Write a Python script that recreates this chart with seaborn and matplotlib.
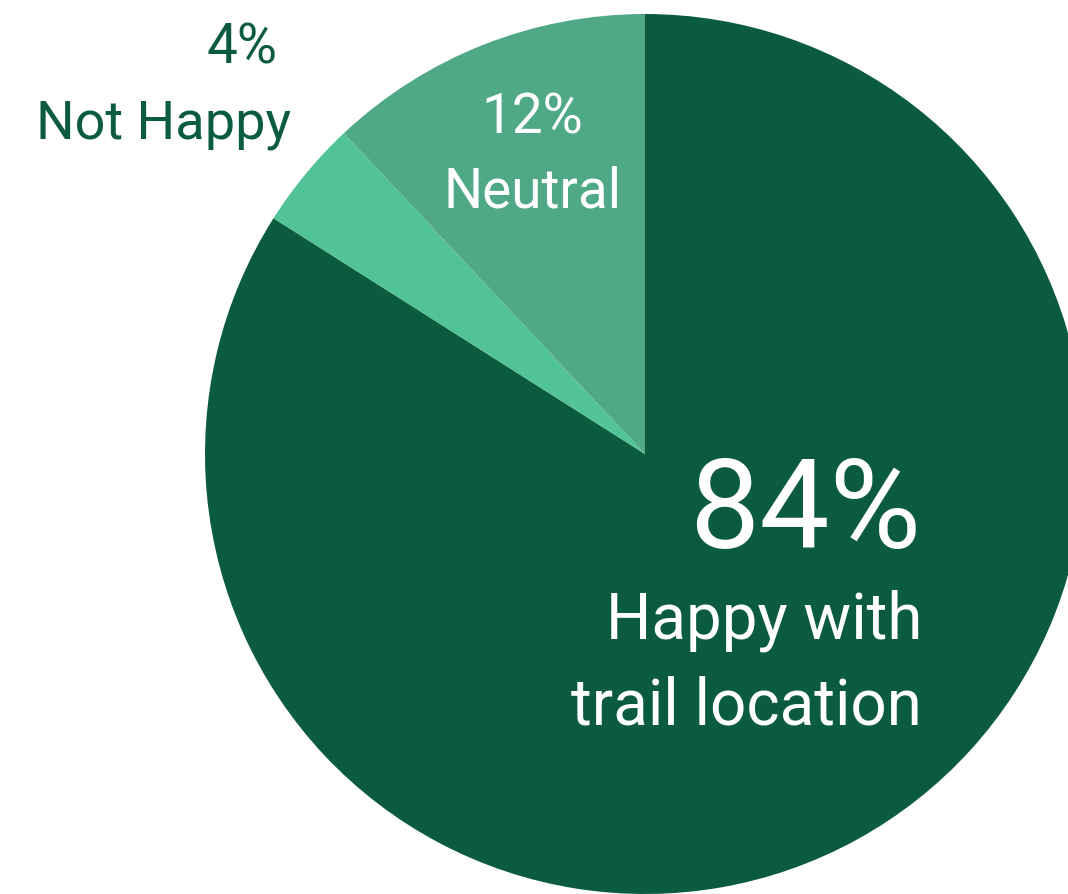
import matplotlib
matplotlib.use("Agg")
import matplotlib.pyplot as plt
import seaborn as sns

# data
labels = ["Happy with\ntrail location", "Not Happy", "Neutral"]
values = [84, 4, 12]
colors = ["#0b5c3f", "#52c297", "#4fa886"]

sns.set_theme(style="white")
plt.rcParams["font.family"] = ["Roboto", "DejaVu Sans"]

W, H = 1068, 895
fig = plt.figure(figsize=(W / 100, H / 100), dpi=100)
ax = fig.add_axes([0, 0, 1, 1])

ax.pie(values, colors=colors, startangle=90, counterclock=False,
       radius=440, center=(645, H - 455),
       wedgeprops=dict(linewidth=0))
ax.set_xlim(0, W)
ax.set_ylim(0, H)
ax.set_aspect("equal")
ax.axis("off")

dark = colors[0]

# Happy with trail location
ax.text(921, H - 548, f"{values[0]}%", color="white", fontsize=90,
        ha="right", va="baseline")
line1, line2 = labels[0].split("\n")
ax.text(922, H - 639, line1, color="white", fontsize=45.8, ha="right", va="baseline")
ax.text(922, H - 725, line2, color="white", fontsize=45.8, ha="right", va="baseline")

# Neutral
ax.text(532, H - 133, f"{values[2]}%", color="white", fontsize=39.5,
        ha="center", va="baseline")
ax.text(532, H - 207, labels[2], color="white", fontsize=39.5,
        ha="center", va="baseline")

# Not Happy
ax.text(242, H - 63, f"{values[1]}%", color=dark, fontsize=39.5,
        ha="center", va="baseline")
ax.text(164, H - 138, labels[1], color=dark, fontsize=39,
        ha="center", va="baseline")

fig.savefig("out.png", dpi=100, facecolor="white")
